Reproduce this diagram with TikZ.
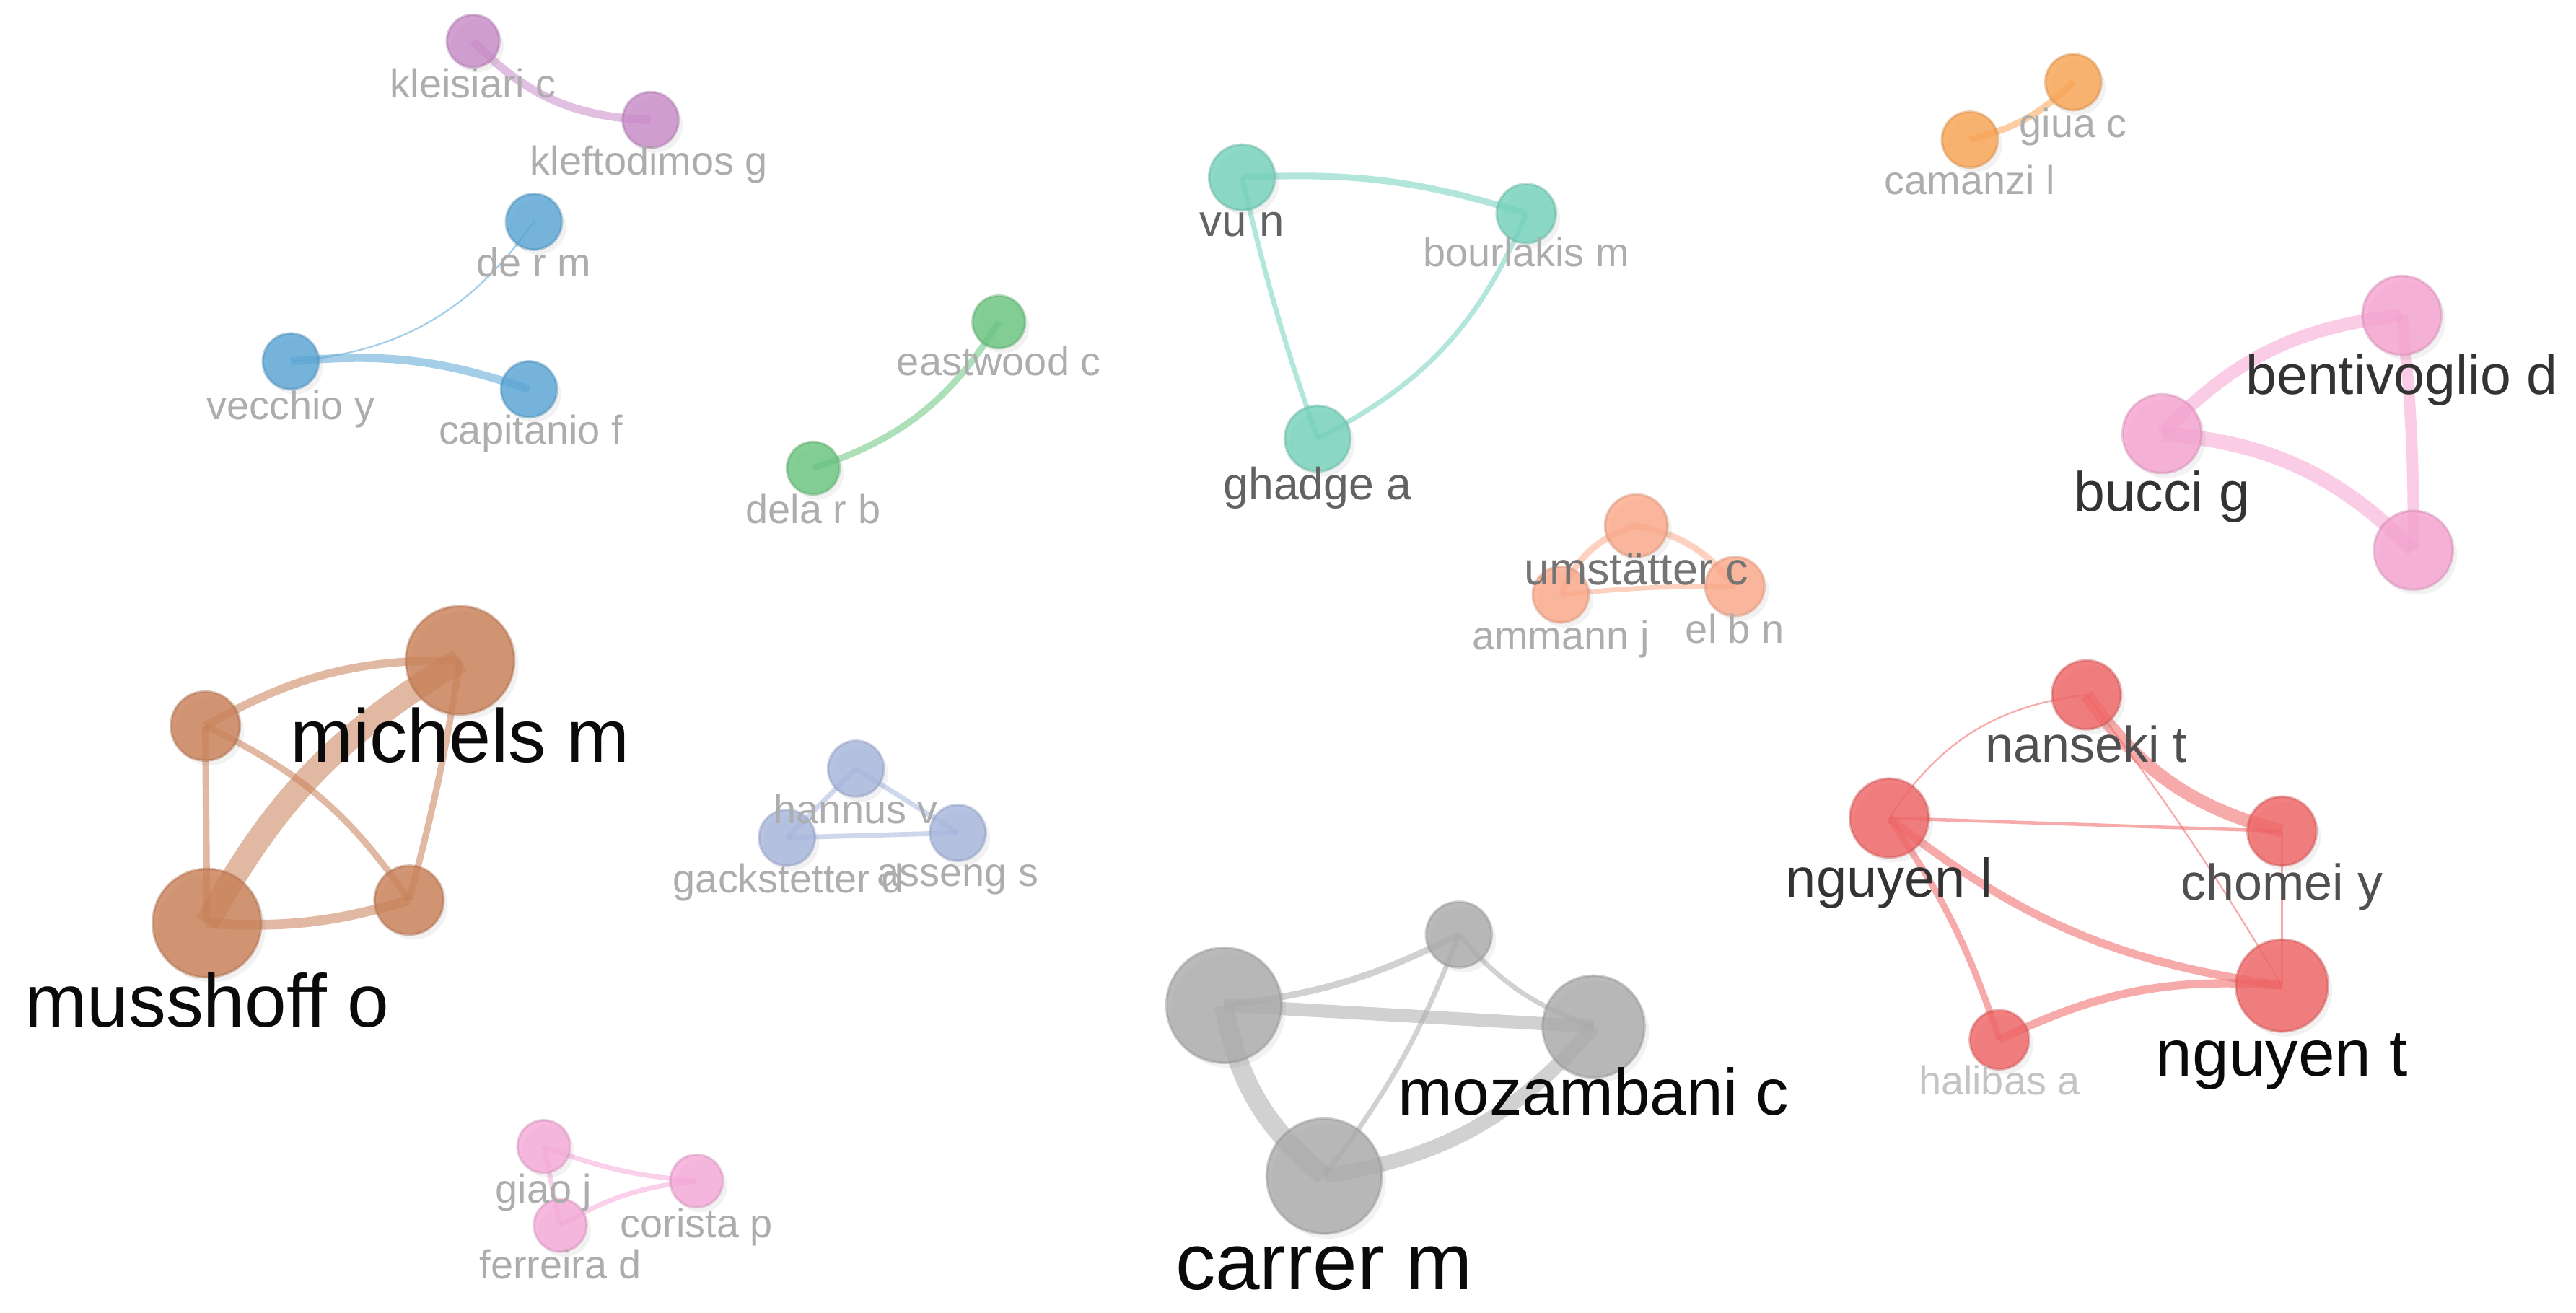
\documentclass[tikz,border=0pt]{standalone}
\usepackage{fontspec}
\setmainfont{Liberation Sans}
\usetikzlibrary{shadows}
\definecolor{cP}{HTML}{C98BC8}
\definecolor{cB}{HTML}{5AA5D6}
\definecolor{cG}{HTML}{6AC57F}
\definecolor{cT}{HTML}{74D2BB}
\definecolor{cO}{HTML}{F9A452}
\definecolor{cK}{HTML}{F5A3CF}
\definecolor{cS}{HTML}{FBA98A}
\definecolor{cN}{HTML}{C98058}
\definecolor{cL}{HTML}{A7B6DD}
\definecolor{cQ}{HTML}{F5A9D8}
\definecolor{cY}{HTML}{ABABAB}
\definecolor{cR}{HTML}{F06464}
\definecolor{lk}{HTML}{0A0A0A}
\definecolor{la}{HTML}{333333}
\definecolor{lb}{HTML}{505050}
\definecolor{lc}{HTML}{626262}
\definecolor{ld}{HTML}{747474}
\definecolor{le}{HTML}{ADADAD}
\definecolor{lf}{HTML}{C4C4C4}
\pgfdeclarelayer{bg}
\pgfsetlayers{bg,main}
\tikzset{
  nd/.style 2 args={circle, inner sep=0pt, minimum size=#2*0.45536mm,
    fill=#1, fill opacity=0.82, draw=#1!85!black, draw opacity=0.45, line width=0.35mm,
    drop shadow={opacity=0.10, shadow xshift=0.6mm, shadow yshift=-0.7mm}},
  eg/.style={draw=#1, draw opacity=0.55, line cap=butt},
  ew/.style={line width=#1*0.22768mm},
  lab/.style 2 args={font=\fontsize{#1}{#1}\selectfont, text=#2, anchor=base, inner sep=0pt},
}
\begin{document}
\begin{tikzpicture}[x=0.22768mm, y=-0.22768mm]
\useasboundingbox (0,0) rectangle (1568,799);
% ---------- nodes ----------
% purple
\node[nd={cP}{16}] (kleisiari) at (288,25) {};
\node[nd={cP}{17}] (kleftodimos) at (396,73) {};
% blue
\node[nd={cB}{17}] (derm) at (325,135) {};
\node[nd={cB}{17}] (vecchio) at (177,220) {};
\node[nd={cB}{17}] (capitanio) at (322,237) {};
% green
\node[nd={cG}{16}] (eastwood) at (608,196) {};
\node[nd={cG}{16}] (dela) at (495,285) {};
% teal
\node[nd={cT}{20}] (vun) at (756,108) {};
\node[nd={cT}{18}] (bourlakis) at (929,130) {};
\node[nd={cT}{20}] (ghadge) at (802,267) {};
% orange
\node[nd={cO}{17}] (giua) at (1262,50) {};
\node[nd={cO}{17}] (camanzi) at (1199,85) {};
% pink top right
\node[nd={cK}{24}] (bentivoglio) at (1462,192) {};
\node[nd={cK}{24}] (bucci) at (1316,264) {};
\node[nd={cK}{24}] (pkthree) at (1469,335) {};
% salmon
\node[nd={cS}{19}] (umst) at (996,320) {};
\node[nd={cS}{17}] (ammann) at (950,362) {};
\node[nd={cS}{18}] (elbn) at (1056,357) {};
% brown
\node[nd={cN}{33}] (michels) at (280,402) {};
\node[nd={cN}{21}] (brtwo) at (125,442) {};
\node[nd={cN}{33}] (musshoff) at (126,562) {};
\node[nd={cN}{21}] (brfour) at (249,548) {};
% lavender
\node[nd={cL}{17}] (hannus) at (521,468) {};
\node[nd={cL}{17}] (gack) at (479,510) {};
\node[nd={cL}{17}] (asseng) at (583,507) {};
% pink small
\node[nd={cQ}{16}] (giao) at (331,698) {};
\node[nd={cQ}{16}] (ferreira) at (341,746) {};
\node[nd={cQ}{16}] (corista) at (424,719) {};
% gray
\node[nd={cY}{35}] (gyone) at (745,612) {};
\node[nd={cY}{20}] (gytwo) at (888,569) {};
\node[nd={cY}{31}] (mozambani) at (970,625) {};
\node[nd={cY}{35}] (carrer) at (806,716) {};
% red
\node[nd={cR}{21}] (nanseki) at (1270,423) {};
\node[nd={cR}{24}] (nguyenl) at (1150,498) {};
\node[nd={cR}{21}] (chomei) at (1389,506) {};
\node[nd={cR}{28}] (nguyent) at (1389,600) {};
\node[nd={cR}{18}] (halibas) at (1217,633) {};
% ---------- edges ----------
\begin{pgfonlayer}{bg}
\draw[eg=cP, ew=5] (kleisiari.center) to[bend right=22] (kleftodimos.center);
\draw[eg=cB, ew=1] (vecchio.center) to[bend right=25] (derm.center);
\draw[eg=cB, ew=5] (vecchio.center) to[bend left=12] (capitanio.center);
\draw[eg=cG, ew=4] (dela.center) to[bend right=20] (eastwood.center);
\draw[eg=cT, ew=4] (vun.center) to[bend left=10] (bourlakis.center);
\draw[eg=cT, ew=3] (vun.center) to[bend right=3] (ghadge.center);
\draw[eg=cT, ew=3] (bourlakis.center) to[bend left=20] (ghadge.center);
\draw[eg=cO, ew=4] (camanzi.center) to[bend right=15] (giua.center);
\draw[eg=cK, ew=8] (bucci.center) to[bend left=20] (bentivoglio.center);
\draw[eg=cK, ew=9] (bucci.center) to[bend left=20] (pkthree.center);
\draw[eg=cK, ew=7] (bentivoglio.center) to[bend left=3] (pkthree.center);
\draw[eg=cS, ew=4] (umst.center) to[bend right=25] (ammann.center);
\draw[eg=cS, ew=4] (umst.center) to[bend left=20] (elbn.center);
\draw[eg=cS, ew=3] (ammann.center) to[bend left=3] (elbn.center);
\draw[eg=cN, ew=15] (musshoff.center) to[bend left=15] (michels.center);
\draw[eg=cN, ew=5] (brtwo.center) to[bend left=15] (michels.center);
\draw[eg=cN, ew=4] (brtwo.center) -- (musshoff.center);
\draw[eg=cN, ew=4] (brtwo.center) to[bend left=15] (brfour.center);
\draw[eg=cN, ew=6] (musshoff.center) to[bend right=10] (brfour.center);
\draw[eg=cN, ew=4] (michels.center) to[bend left=3] (brfour.center);
\draw[eg=cL, ew=3] (hannus.center) -- (gack.center);
\draw[eg=cL, ew=3] (hannus.center) -- (asseng.center);
\draw[eg=cL, ew=3] (gack.center) -- (asseng.center);
\draw[eg=cQ, ew=3] (giao.center) -- (ferreira.center);
\draw[eg=cQ, ew=3] (giao.center) to[bend right=8] (corista.center);
\draw[eg=cQ, ew=3] (ferreira.center) to[bend left=12] (corista.center);
\draw[eg=cY, ew=8] (gyone.center) -- (mozambani.center);
\draw[eg=cY, ew=12] (gyone.center) to[bend right=20] (carrer.center);
\draw[eg=cY, ew=9] (carrer.center) to[bend right=20] (mozambani.center);
\draw[eg=cY, ew=4] (gyone.center) to[bend right=10] (gytwo.center);
\draw[eg=cY, ew=3] (gytwo.center) to[bend right=15] (mozambani.center);
\draw[eg=cY, ew=3] (carrer.center) to[bend right=8] (gytwo.center);
\draw[eg=cR, ew=8] (nanseki.center) to[bend right=20] (chomei.center);
\draw[eg=cR, ew=1] (nguyenl.center) to[bend left=25] (nanseki.center);
\draw[eg=cR, ew=1] (nanseki.center) to[bend left=3] (nguyent.center);
\draw[eg=cR, ew=2] (nguyenl.center) -- (chomei.center);
\draw[eg=cR, ew=5] (nguyenl.center) to[bend right=15] (nguyent.center);
\draw[eg=cR, ew=4] (nguyenl.center) to[bend left=8] (halibas.center);
\draw[eg=cR, ew=5] (halibas.center) to[bend left=15] (nguyent.center);
\draw[eg=cR, ew=1] (chomei.center) -- (nguyent.center);
\end{pgfonlayer}
% ---------- labels ----------
\node[lab={15.9pt}{le}] (kleisiari-l) at (288,59.5) {kleisiari c};
\node[lab={15.9pt}{le}] (kleftodimos-l) at (395,106.5) {kleftodimos g};
\node[lab={15.9pt}{le}] (derm-l) at (325,168.5) {de r m};
\node[lab={15.9pt}{le}] (vecchio-l) at (177,255.5) {vecchio y};
\node[lab={15.9pt}{le}] (capitanio-l) at (323,270.5) {capitanio f};
\node[lab={15.9pt}{le}] (eastwood-l) at (608,228.5) {eastwood c};
\node[lab={15.9pt}{le}] (dela-l) at (495,318.5) {dela r b};
\node[lab={17.6pt}{lc}] (vun-l) at (756,144) {vu n};
\node[lab={15.9pt}{le}] (bourlakis-l) at (929,162.5) {bourlakis m};
\node[lab={17.8pt}{lc}] (ghadge-l) at (802,304) {ghadge a};
\node[lab={15.9pt}{le}] (giua-l) at (1262,83.5) {giua c};
\node[lab={15.9pt}{le}] (camanzi-l) at (1199,118.5) {camanzi l};
\node[lab={21.9pt}{la}] (bentivoglio-l) at (1462,240) {bentivoglio d};
\node[lab={21.9pt}{la}] (bucci-l) at (1316,311) {bucci g};
\node[lab={17.9pt}{ld}] (umst-l) at (996,356) {umstätter c};
\node[lab={15.9pt}{le}] (ammann-l) at (950,395.5) {ammann j};
\node[lab={15.9pt}{le}] (elbn-l) at (1056,391.5) {el b n};
\node[lab={29.7pt}{lk}] (michels-l) at (280,464) {michels m};
\node[lab={29.5pt}{lk}] (musshoff-l) at (126,625) {musshoff o};
\node[lab={15.9pt}{le}] (hannus-l) at (521,501.5) {hannus v};
\node[lab={15.9pt}{le}] (gack-l) at (480,543.5) {gackstetter d};
\node[lab={15.9pt}{le}] (asseng-l) at (583,539.5) {asseng s};
\node[lab={15.9pt}{le}] (giao-l) at (331,732.5) {giao j};
\node[lab={15.9pt}{le}] (ferreira-l) at (341,778.5) {ferreira d};
\node[lab={15.9pt}{le}] (corista-l) at (424,753.5) {corista p};
\node[lab={25.9pt}{lk}] (mozambani-l) at (970,679) {mozambani c};
\node[lab={31.5pt}{lk}] (carrer-l) at (806,785) {carrer m};
\node[lab={19.9pt}{lb}] (nanseki-l) at (1270,464) {nanseki t};
\node[lab={21.6pt}{la}] (nguyenl-l) at (1150,546) {nguyen l};
\node[lab={19.9pt}{lb}] (chomei-l) at (1389,548) {chomei y};
\node[lab={25.9pt}{lk}] (nguyent-l) at (1389,655) {nguyen t};
\node[lab={15.9pt}{lf}] (halibas-l) at (1217,666.5) {halibas a};
\end{tikzpicture}
\end{document}
